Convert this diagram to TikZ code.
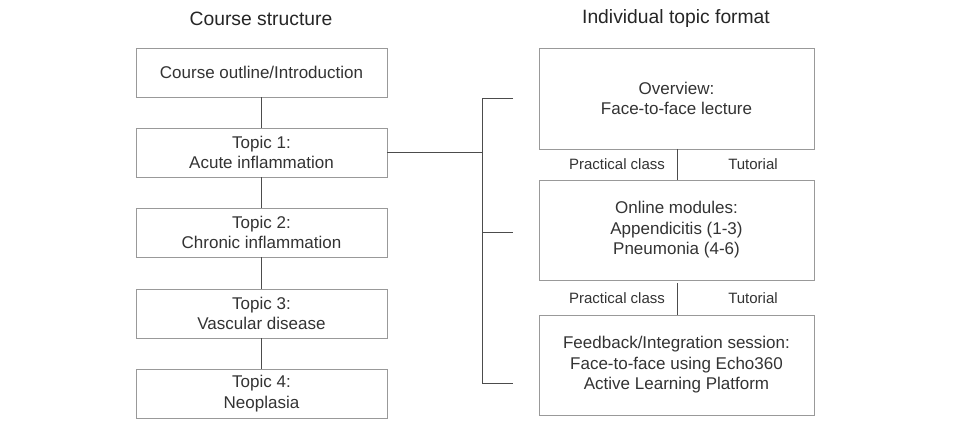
\documentclass[tikz,border=0pt]{standalone}
\usepackage{fontspec}
\setmainfont{Liberation Sans}
\begin{document}
\begin{tikzpicture}[x=1pt,y=-1pt,
  box/.style={draw=black!40,line width=0.8pt,fill=white,inner sep=0pt,align=center,font=\fontsize{17}{20.5}\selectfont,text=black!80},
  conn/.style={draw=black!70,line width=0.9pt},
  ttl/.style={font=\fontsize{19.3}{23}\selectfont,text=black!85},
  lbl/.style={font=\fontsize{15}{18}\selectfont,text=black!80}]
\useasboundingbox[fill=white] (0,0) rectangle (955,422);
\node[ttl] (t1) at (261,19) {Course structure};
\node[ttl] (t2) at (676,19) {Individual topic format};
% left boxes
\node[box,minimum width=251pt,minimum height=49pt] (c0) at (261.5,72.5) {Course outline/Introduction};
\node[box,minimum width=251pt,minimum height=49pt] (c1) at (261.5,152.5) {Topic 1:\\Acute inflammation};
\node[box,minimum width=251pt,minimum height=49pt] (c2) at (261.5,232.5) {Topic 2:\\Chronic inflammation};
\node[box,minimum width=251pt,minimum height=49pt] (c3) at (261.5,313.5) {Topic 3:\\Vascular disease};
\node[box,minimum width=251pt,minimum height=49pt] (c4) at (261.5,393.5) {Topic 4:\\Neoplasia};
\draw[conn] (c0.south) -- (c1.north);
\draw[conn] (c1.south) -- (c2.north);
\draw[conn] (c2.south) -- (c3.north);
\draw[conn] (c3.south) -- (c4.north);
% right boxes
\node[box,minimum width=275pt,minimum height=101pt] (r1) at (676.5,98.5) {Overview:\\Face-to-face lecture};
\node[box,minimum width=275pt,minimum height=100pt] (r2) at (676.5,230) {Online modules:\\Appendicitis (1-3)\\Pneumonia (4-6)};
\node[box,minimum width=275pt,minimum height=100pt] (r3) at (676.5,365) {Feedback/Integration session:\\Face-to-face using Echo360\\Active Learning Platform};
\coordinate (d1) at (677,149);
\coordinate (d2) at (677,180);
\coordinate (d3) at (677,283);
\coordinate (d4) at (677,315);
\draw[conn] (d1) -- (d2);
\draw[conn] (d3) -- (d4);
\node[lbl] (p1) at (617,164) {Practical class};
\node[lbl] (u1) at (753,164) {Tutorial};
\node[lbl] (p2) at (617,298) {Practical class};
\node[lbl] (u2) at (753,298) {Tutorial};
% bracket
\coordinate (b0) at (482,152.5);
\coordinate (bt) at (482,98);
\coordinate (bm) at (482,232);
\coordinate (bb) at (482,383);
\coordinate (e1) at (513,98);
\coordinate (e2) at (513,232);
\coordinate (e3) at (513,383);
\draw[conn] (c1.east) -- (b0);
\draw[conn] (e1) -- (bt) -- (bb) -- (e3);
\draw[conn] (bm) -- (e2);
\end{tikzpicture}
\end{document}
